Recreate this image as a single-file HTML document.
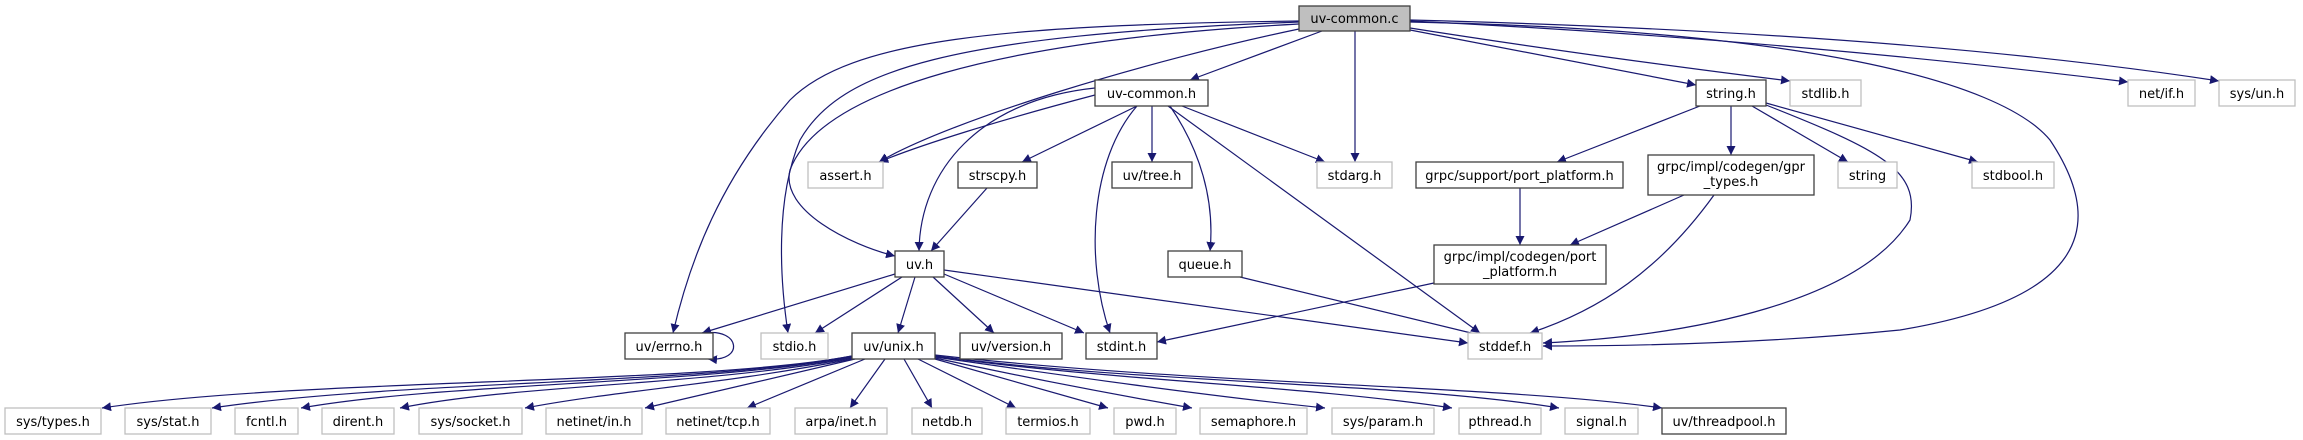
<!DOCTYPE html>
<html><head><meta charset="utf-8"><style>
html,body{margin:0;padding:0;background:#fff;width:2303px;height:440px;overflow:hidden}
svg text{font-family:"DejaVu Sans","Liberation Sans",sans-serif;font-size:13px;fill:#000;text-anchor:middle}
.b{fill:#fff;stroke:#404040;stroke-width:1.3}
.g{fill:#fff;stroke:#bfbfbf;stroke-width:1.3}
.e{fill:none;stroke:#191970;stroke-width:1.2}
</style></head><body>
<svg width="2303" height="440" viewBox="0 0 2303 440" xmlns="http://www.w3.org/2000/svg">
<defs><marker id="a" viewBox="0 0 10 10" refX="10" refY="5" markerWidth="9" markerHeight="9" markerUnits="userSpaceOnUse" orient="auto"><path d="M0,0 L10,5 L0,10 z" fill="#191970"/></marker></defs>
<g marker-end="url(#a)">
<!-- from uv-common.c -->
<path class="e" d="M1299,21 C1000,25 850,40 790,100 C720,180 690,260 673,333"/>
<path class="e" d="M1299,22 C950,35 840,70 800,140 C775,200 780,280 788,333"/>
<path class="e" d="M1299,24 C1000,40 820,90 790,170 C780,210 850,245 895,256"/>
<path class="e" d="M1299,29 C1150,60 950,120 879,162"/>
<path class="e" d="M1322,31 L1190,80"/>
<path class="e" d="M1355,31 L1355,162"/>
<path class="e" d="M1410,30 L1696,85"/>
<path class="e" d="M1410,28 C1550,50 1700,70 1790,81"/>
<path class="e" d="M1410,22 C1800,30 2000,80 2050,140 C2110,230 2080,300 1900,330 C1750,345 1600,346 1543,346"/>
<path class="e" d="M1410,21 C1700,35 1950,60 2128,82"/>
<path class="e" d="M1410,20 C1800,30 2050,55 2219,81"/>
<!-- from uv-common.h -->
<path class="e" d="M1095,95 C1000,120 920,145 879,162"/>
<path class="e" d="M1095,88 C980,100 920,170 919,251"/>
<path class="e" d="M1137,106 L1022,162"/>
<path class="e" d="M1137,106 C1090,160 1085,260 1110,333"/>
<path class="e" d="M1152,106 L1152,162"/>
<path class="e" d="M1170,106 C1200,150 1215,200 1210,251"/>
<path class="e" d="M1168,106 L1480,333"/>
<path class="e" d="M1182,106 L1325,162"/>
<path class="e" d="M987,188 L931,251"/>
<!-- from uv.h -->
<path class="e" d="M895,274 L702,333"/>
<path class="e" d="M902,277 L815,333"/>
<path class="e" d="M915,277 L898,333"/>
<path class="e" d="M933,277 L994,333"/>
<path class="e" d="M944,274 L1084,333"/>
<path class="e" d="M944,270 L1468,343"/>
<path class="e" d="M1240,277 L1500,340"/>
<path class="e" d="M1434,283 L1157,342"/>
<!-- from string.h -->
<path class="e" d="M1700,106 L1557,162"/>
<path class="e" d="M1731,106 L1731,155"/>
<path class="e" d="M1752,106 L1848,162"/>
<path class="e" d="M1766,103 L1978,162"/>
<path class="e" d="M1766,105 C1880,150 1920,170 1910,220 C1860,300 1700,335 1543,343"/>
<path class="e" d="M1520,188 L1520,245"/>
<path class="e" d="M1684,195 L1570,245"/>
<path class="e" d="M1714,195 C1660,270 1600,310 1530,333"/>
<!-- self loop errno -->
<path class="e" d="M705,333 C740,328 745,362 708,359"/>
<!-- from uv/unix.h -->
<path class="e" d="M852,356 C700,385 300,378 102,408"/>
<path class="e" d="M852,356 C700,385 400,380 212,408"/>
<path class="e" d="M852,357 C700,385 450,382 301,408"/>
<path class="e" d="M852,358 C700,386 520,384 400,408"/>
<path class="e" d="M852,359 C720,385 620,390 525,408"/>
<path class="e" d="M855,359 L645,408"/>
<path class="e" d="M865,359 L747,408"/>
<path class="e" d="M885,359 L850,408"/>
<path class="e" d="M904,359 L932,408"/>
<path class="e" d="M918,359 L1016,408"/>
<path class="e" d="M935,359 L1108,408"/>
<path class="e" d="M935,358 C1000,372 1100,392 1192,408"/>
<path class="e" d="M935,357 C1060,375 1200,395 1325,408"/>
<path class="e" d="M935,356 C1100,380 1300,385 1452,408"/>
<path class="e" d="M935,356 C1150,384 1400,382 1559,408"/>
<path class="e" d="M935,355 C1200,385 1500,385 1662,408"/>
</g>
<!-- nodes -->
<rect x="1299" y="6" width="111" height="25" fill="#bfbfbf" stroke="#404040" stroke-width="1.3"/><text x="1354.5" y="23">uv-common.c</text>
<rect class="b" x="1095" y="80" width="113" height="26"/><text x="1151.5" y="98">uv-common.h</text>
<rect class="b" x="1696" y="80" width="70" height="26"/><text x="1731" y="98">string.h</text>
<rect class="g" x="1790" y="80" width="71" height="26"/><text x="1825.5" y="98">stdlib.h</text>
<rect class="g" x="2128" y="80" width="67" height="26"/><text x="2161.5" y="98">net/if.h</text>
<rect class="g" x="2219" y="80" width="76" height="26"/><text x="2257" y="98">sys/un.h</text>
<rect class="g" x="808" y="162" width="75" height="26"/><text x="845.5" y="180">assert.h</text>
<rect class="b" x="958" y="162" width="79" height="26"/><text x="997.5" y="180">strscpy.h</text>
<rect class="b" x="1112" y="162" width="80" height="26"/><text x="1152" y="180">uv/tree.h</text>
<rect class="g" x="1317" y="162" width="75" height="26"/><text x="1354.5" y="180">stdarg.h</text>
<rect class="b" x="1416" y="162" width="207" height="26"/><text x="1519.5" y="180">grpc/support/port_platform.h</text>
<rect class="b" x="1648" y="155" width="166" height="40"/><text x="1731" y="171">grpc/impl/codegen/gpr</text><text x="1731" y="186">_types.h</text>
<rect class="g" x="1838" y="162" width="59" height="26"/><text x="1867.5" y="180">string</text>
<rect class="g" x="1972" y="162" width="82" height="26"/><text x="2013" y="180">stdbool.h</text>
<rect class="b" x="895" y="251" width="49" height="26"/><text x="919.5" y="269">uv.h</text>
<rect class="b" x="1168" y="251" width="74" height="26"/><text x="1205" y="269">queue.h</text>
<rect class="b" x="1434" y="245" width="172" height="39"/><text x="1520" y="261">grpc/impl/codegen/port</text><text x="1520" y="276">_platform.h</text>
<rect class="b" x="625" y="333" width="88" height="26"/><text x="669" y="351">uv/errno.h</text>
<rect class="g" x="761" y="333" width="67" height="26"/><text x="794.5" y="351">stdio.h</text>
<rect class="b" x="852" y="333" width="83" height="26"/><text x="893.5" y="351">uv/unix.h</text>
<rect class="b" x="960" y="333" width="102" height="26"/><text x="1011" y="351">uv/version.h</text>
<rect class="b" x="1086" y="333" width="71" height="26"/><text x="1121.5" y="351">stdint.h</text>
<rect class="g" x="1468" y="333" width="74" height="26"/><text x="1505" y="351">stddef.h</text>
<rect class="g" x="5" y="408" width="96" height="26"/><text x="53" y="426">sys/types.h</text>
<rect class="g" x="125" y="408" width="86" height="26"/><text x="168" y="426">sys/stat.h</text>
<rect class="g" x="235" y="408" width="63" height="26"/><text x="266.5" y="426">fcntl.h</text>
<rect class="g" x="322" y="408" width="72" height="26"/><text x="358" y="426">dirent.h</text>
<rect class="g" x="419" y="408" width="103" height="26"/><text x="470.5" y="426">sys/socket.h</text>
<rect class="g" x="546" y="408" width="96" height="26"/><text x="594" y="426">netinet/in.h</text>
<rect class="g" x="666" y="408" width="104" height="26"/><text x="718" y="426">netinet/tcp.h</text>
<rect class="g" x="795" y="408" width="92" height="26"/><text x="841" y="426">arpa/inet.h</text>
<rect class="g" x="912" y="408" width="70" height="26"/><text x="947" y="426">netdb.h</text>
<rect class="g" x="1006" y="408" width="84" height="26"/><text x="1048" y="426">termios.h</text>
<rect class="g" x="1114" y="408" width="62" height="26"/><text x="1145" y="426">pwd.h</text>
<rect class="g" x="1200" y="408" width="107" height="26"/><text x="1253.5" y="426">semaphore.h</text>
<rect class="g" x="1332" y="408" width="102" height="26"/><text x="1383" y="426">sys/param.h</text>
<rect class="g" x="1459" y="408" width="82" height="26"/><text x="1500" y="426">pthread.h</text>
<rect class="g" x="1565" y="408" width="73" height="26"/><text x="1601.5" y="426">signal.h</text>
<rect class="b" x="1662" y="408" width="124" height="26"/><text x="1724" y="426">uv/threadpool.h</text>
</svg>
</body></html>
